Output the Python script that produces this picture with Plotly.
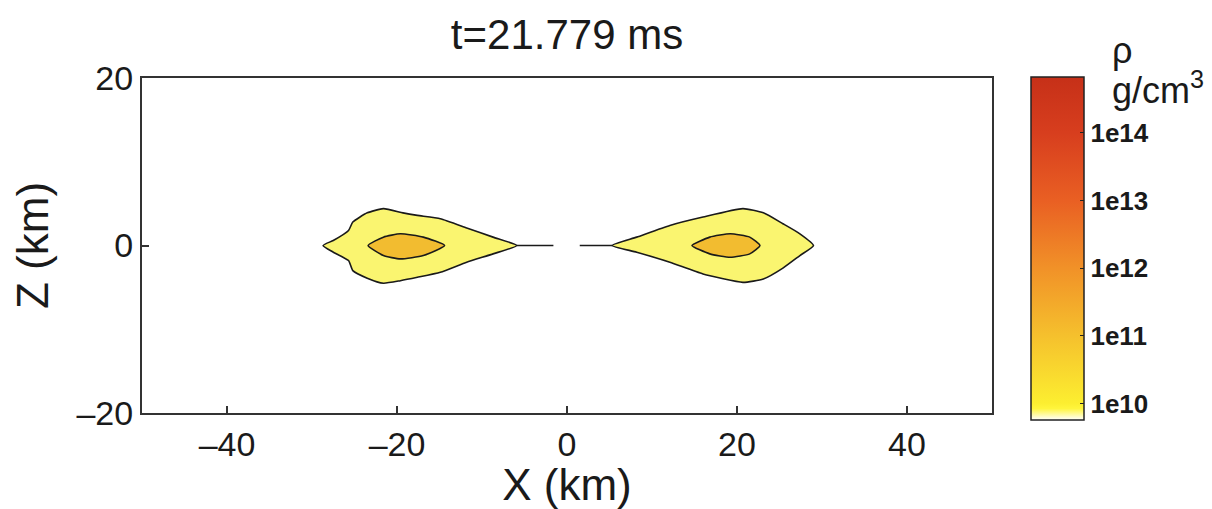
import plotly.graph_objects as go

# Density contour outlines in the x-z plane (km)
left_outer_x = [-28.7, -27.5, -25.7, -25.2, -23.5, -21.6, -19.3, -17.6, -14.9, -11.8, -8.7, -5.9,
                -8.7, -11.8, -14.9, -17.6, -19.6, -21.6, -23.5, -25.2, -25.7, -27.5]
left_outer_z = [0.0, 0.6, 1.8, 2.8, 3.9, 4.4, 3.9, 3.6, 3.2, 2.1, 1.0, 0.0,
                -1.0, -2.0, -3.2, -3.8, -4.2, -4.5, -3.9, -3.0, -1.8, -0.8]

left_inner_x = [-23.4, -21.6, -19.6, -16.9, -14.4, -16.9, -19.6, -21.6]
left_inner_z = [0.0, 1.0, 1.4, 1.0, 0.0, -1.2, -1.6, -1.2]

right_outer_x = [5.3, 8.2, 12.1, 16.0, 20.7, 23.1, 25.4, 27.4, 29.0,
                 27.4, 25.4, 23.1, 20.7, 16.0, 12.1, 8.2]
right_outer_z = [0.0, 1.0, 2.4, 3.4, 4.4, 3.9, 2.6, 1.4, 0.0,
                 -1.2, -2.7, -4.0, -4.4, -3.4, -2.0, -0.8]

right_inner_x = [14.7, 16.8, 19.2, 21.5, 22.7, 21.5, 19.2, 16.8]
right_inner_z = [0.0, 1.0, 1.4, 1.0, 0.0, -1.0, -1.4, -1.0]

# Thin midplane filaments
left_filament_x = [-5.9, -1.6]
right_filament_x = [1.5, 5.3]
filament_z = [0.0, 0.0]

# log10(rho) colour axis
cbar_min, cbar_max = 9.75, 14.82
cbar_tickvals = [10, 11, 12, 13, 14]
cbar_ticktext = ["1e10", "1e11", "1e12", "1e13", "1e14"]

x_ticks = [-40, -20, 0, 20, 40]
z_ticks = [-20, 0, 20]

FONT = "Liberation Sans, Arial, Helvetica"
INK = "#1a1a1a"


def pos(v):
    return (v - cbar_min) / (cbar_max - cbar_min)


colorscale = [
    [0.0, "rgb(255,255,255)"],
    [pos(9.92), "rgb(255,245,60)"],
    [pos(10.0), "rgb(252,238,48)"],
    [pos(11.0), "rgb(245,192,45)"],
    [pos(12.0), "rgb(241,145,40)"],
    [pos(13.0), "rgb(233,95,35)"],
    [pos(14.0), "rgb(215,62,30)"],
    [1.0, "rgb(198,48,24)"],
]

outer_fill = "rgb(250,245,112)"
inner_fill = "rgb(242,188,48)"
edge = dict(color=INK, width=1.6, shape="spline", smoothing=0.5)

fig = go.Figure()

for xs, zs, fc in [
    (left_outer_x, left_outer_z, outer_fill),
    (right_outer_x, right_outer_z, outer_fill),
    (left_inner_x, left_inner_z, inner_fill),
    (right_inner_x, right_inner_z, inner_fill),
]:
    fig.add_trace(go.Scatter(
        x=xs + xs[:1], y=zs + zs[:1], mode="lines", fill="toself",
        fillcolor=fc, line=edge, hoverinfo="skip", showlegend=False,
    ))

for xs in (left_filament_x, right_filament_x):
    fig.add_trace(go.Scatter(x=xs, y=filament_z, mode="lines",
                             line=dict(color=INK, width=1.6),
                             hoverinfo="skip", showlegend=False))

# Colour bar for log density
fig.add_trace(go.Scatter(
    x=[None], y=[None], mode="markers", showlegend=False, hoverinfo="skip",
    marker=dict(
        color=[cbar_min], colorscale=colorscale, cmin=cbar_min, cmax=cbar_max,
        showscale=True,
        colorbar=dict(
            x=(1031 - 142) / 850, xanchor="left", xpad=0,
            y=0.49, yanchor="middle", ypad=0,
            lenmode="pixels", len=343,
            thicknessmode="pixels", thickness=53,
            outlinecolor="#222", outlinewidth=1.5,
            tickvals=cbar_tickvals, ticktext=cbar_ticktext,
            ticks="inside", ticklen=4, tickcolor="#222",
            tickfont=dict(family=FONT, size=26, color=INK, weight="bold"),
        ),
    ),
))

tick_font = dict(family=FONT, size=34, color=INK)
label_font = dict(family=FONT, size=44, color=INK)


def dash(v):
    return str(v).replace("-", "\u2013")


fig.update_layout(
    width=1212, height=509,
    margin=dict(l=142, r=220, t=78, b=96),
    paper_bgcolor="white", plot_bgcolor="white",
    font=dict(family=FONT, color=INK),
    title=dict(text="t=21.779 ms", x=0.5, xref="paper", xanchor="center",
               y=1 - 34 / 509, yref="container", yanchor="middle",
               font=dict(family=FONT, size=42, color=INK)),
    xaxis=dict(range=[-50, 50], tickvals=x_ticks, ticktext=[dash(v) for v in x_ticks],
               showgrid=False, zeroline=False, showline=True, linecolor="#333", linewidth=2,
               mirror=True, ticks="inside", ticklen=7, tickcolor="#333", tickwidth=1.5,
               tickfont=tick_font, title=dict(text="X (km)", font=label_font, standoff=0)),
    yaxis=dict(range=[-20, 20], tickvals=z_ticks, ticktext=[dash(v) for v in z_ticks],
               showgrid=False, zeroline=False, showline=True, linecolor="#333", linewidth=2,
               mirror=True, ticks="inside", ticklen=7, tickcolor="#333", tickwidth=1.5,
               tickfont=tick_font, title=dict(text="Z (km)", font=label_font, standoff=14)),
)

# Colour-bar heading, positioned in pixels relative to the plot frame
heading = [("\u03c1", 1122, 50), ("g/cm<sup>3</sup>", 1158, 88)]
for text, px, py in heading:
    fig.add_annotation(text=text, x=(px - 142) / 850, y=(413 - py) / 335,
                       xref="paper", yref="paper", showarrow=False,
                       xanchor="center", yanchor="middle",
                       font=dict(family=FONT, size=36, color=INK))

fig.write_html("out.html")
